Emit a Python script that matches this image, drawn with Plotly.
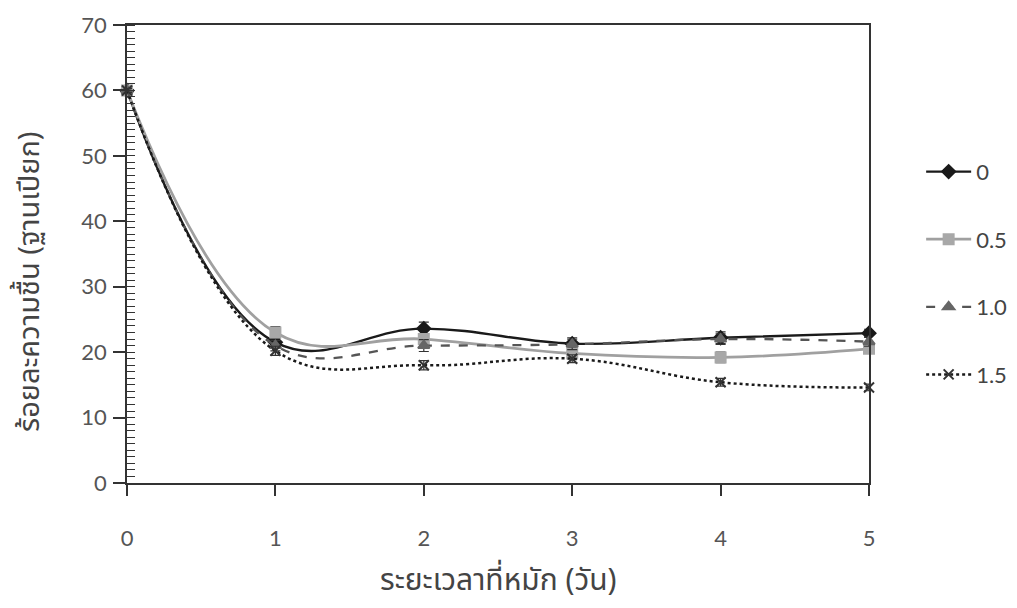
import plotly.graph_objects as go

days = [0, 1, 2, 3, 4, 5]
series_names = ["0", "0.5", "1.0", "1.5"]
moisture_0 = [60.0, 21.5, 23.6, 21.3, 22.2, 22.9]
moisture_05 = [60.0, 23.0, 22.0, 19.8, 19.2, 20.5]
moisture_10 = [60.0, 21.0, 21.0, 21.2, 22.0, 21.6]
moisture_15 = [60.0, 20.2, 18.0, 19.0, 15.4, 14.6]
err_0 = [0.3, 0.8, 1.0, 0.9, 0.9, 0.6]
err_05 = [0.3, 0.9, 0.8, 0.8, 0.8, 0.7]
err_10 = [0.3, 0.8, 0.9, 0.8, 0.8, 0.7]
err_15 = [0.3, 0.7, 0.7, 0.6, 0.6, 0.5]
x_title = "ระยะเวลาที่หมัก (วัน)"
y_title = "ร้อยละความชื้น (ฐานเปียก)"

styles = [
    dict(color="#1a1a1a", dash="solid", symbol="diamond", mcolor="#1a1a1a", width=2.4),
    dict(color="#a0a0a0", dash="solid", symbol="square", mcolor="#a8a8a8", width=2.8),
    dict(color="#555555", dash="dash", symbol="triangle-up", mcolor="#666666", width=2.3),
    dict(color="#1a1a1a", dash="dot", symbol="x-thin", mcolor="#333333", width=2.5),
]
values = [moisture_0, moisture_05, moisture_10, moisture_15]
errors = [err_0, err_05, err_10, err_15]

thai_font = "Noto Sans Thai, Tahoma, Loma, Garuda, Noto Sans, sans-serif"

fig = go.Figure()
for name, vals, errs, st in zip(series_names, values, errors, styles):
    fig.add_trace(go.Scatter(
        x=days, y=vals, name=name, mode="lines+markers",
        legendgroup=name,
        line=dict(color=st["color"], dash=st["dash"], width=st["width"], shape="spline", smoothing=1.15),
        marker=dict(symbol=st["symbol"], size=10, color=st["mcolor"],
                    line=dict(color=st["mcolor"], width=2)),
        error_y=dict(type="data", array=errs, visible=True, color="#333333", thickness=1.2, width=5),
        cliponaxis=False,
    ))

tick_font = dict(family="Lato, Open Sans, sans-serif", size=22, color="#555555")

# page body adds an 8px offset; the figure is sized so that it fits the window
fig.update_layout(
    width=1009, height=600,
    paper_bgcolor="white", plot_bgcolor="white",
    margin=dict(l=119, r=148, t=17, b=125),
    showlegend=True,
    legend=dict(xref="container", yref="container", x=0.905, y=0.762,
                xanchor="left", yanchor="top",
                font=dict(family="Lato, Open Sans, sans-serif", size=22, color="#444444"),
                tracegroupgap=36, itemwidth=45, bgcolor="rgba(0,0,0,0)"),
    font=dict(family=thai_font),
    annotations=[
        dict(text=y_title, xref="paper", yref="paper", x=-0.13, y=0.44,
             xanchor="center", yanchor="middle", textangle=-90, showarrow=False,
             font=dict(family=thai_font, size=29, color="#444444")),
        dict(text=x_title, xref="paper", yref="paper", x=0.5, y=-0.215,
             xanchor="center", yanchor="middle", showarrow=False,
             font=dict(family=thai_font, size=30, color="#444444")),
    ],
)
fig.update_xaxes(
    range=[0, 5], tickmode="array", tickvals=days, ticktext=[str(d) for d in days],
    showgrid=False, zeroline=False, showline=True, linecolor="#333333", linewidth=1.5,
    mirror=True, ticks="outside", ticklen=11, tickcolor="#333333", tickwidth=1.5,
    ticklabelstandoff=24, tickfont=tick_font, automargin=False,
)
fig.update_yaxes(
    range=[0, 70], dtick=10, showgrid=False, zeroline=False, showline=True,
    linecolor="#333333", linewidth=1.5, mirror=True,
    ticks="outside", ticklen=12, tickcolor="#333333", tickwidth=1.5,
    tickfont=tick_font, ticklabelstandoff=2, automargin=False,
    minor=dict(dtick=1, ticks="inside", ticklen=8, tickcolor="#333333", tickwidth=1.2, showgrid=False),
)

fig.write_html("out.html")
